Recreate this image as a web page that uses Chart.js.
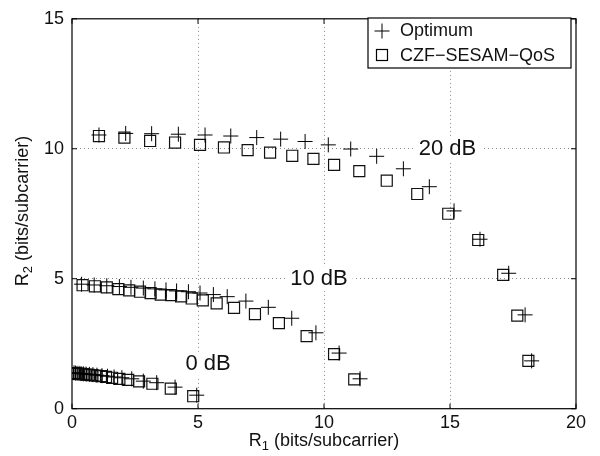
<!DOCTYPE html>
<html>
<head>
<meta charset="utf-8">
<script src="https://cdn.jsdelivr.net/npm/chart.js@4"></script>
<style>
  html, body { margin: 0; padding: 0; background: #fff; }
  #wrap { width: 600px; height: 456px; position: relative; }
</style>
</head>
<body>
<div id="wrap"><canvas id="c"></canvas></div>
<script>
// ── DATA ─────────────────────────────────────────
const xTicks = [0, 5, 10, 15, 20];
const yTicks = [0, 5, 10, 15];

// 20 dB
const opt20X = [1.07, 2.13, 3.16, 4.22, 5.28, 6.30, 7.33, 8.28, 9.25, 10.17, 11.06, 12.09, 13.15, 14.18, 15.16, 16.19, 17.33, 17.98, 18.24];
const opt20Y = [10.53, 10.59, 10.58, 10.56, 10.53, 10.49, 10.43, 10.37, 10.28, 10.15, 9.99, 9.71, 9.23, 8.54, 7.61, 6.52, 5.21, 3.61, 1.84];
const czf20X = [1.07, 2.08, 3.10, 4.09, 5.08, 6.03, 6.97, 7.86, 8.74, 9.58, 10.40, 11.40, 12.49, 13.70, 14.93, 16.12, 17.11, 17.67, 18.11];
const czf20Y = [10.49, 10.43, 10.30, 10.24, 10.15, 10.05, 9.95, 9.85, 9.73, 9.61, 9.38, 9.14, 8.77, 8.26, 7.50, 6.49, 5.15, 3.58, 1.84];

// 10 dB
const opt10X = [0.38, 0.88, 1.38, 1.88, 2.34, 2.83, 3.29, 3.73, 4.15, 4.62, 5.08, 5.61, 6.16, 6.90, 7.79, 8.72, 9.68, 10.60, 11.43];
const opt10Y = [4.79, 4.76, 4.73, 4.70, 4.67, 4.64, 4.61, 4.57, 4.53, 4.50, 4.45, 4.39, 4.31, 4.14, 3.90, 3.48, 2.92, 2.14, 1.15];
const czf10X = [0.42, 0.91, 1.38, 1.84, 2.27, 2.70, 3.12, 3.52, 3.93, 4.33, 4.75, 5.19, 5.74, 6.43, 7.26, 8.21, 9.31, 10.40, 11.20];
const czf10Y = [4.75, 4.71, 4.67, 4.60, 4.55, 4.50, 4.45, 4.39, 4.37, 4.32, 4.24, 4.17, 4.05, 3.88, 3.64, 3.29, 2.79, 2.10, 1.13];

// 0 dB
const opt0X = [0.08, 0.14, 0.20, 0.28, 0.36, 0.45, 0.56, 0.69, 0.83, 0.99, 1.19, 1.41, 1.67, 1.98, 2.37, 2.83, 3.36, 4.09, 4.95];
const opt0Y = [1.38, 1.37, 1.36, 1.36, 1.35, 1.34, 1.33, 1.32, 1.31, 1.29, 1.27, 1.25, 1.22, 1.19, 1.15, 1.06, 1.00, 0.83, 0.52];
const czf0X = [0.08, 0.14, 0.20, 0.28, 0.36, 0.45, 0.56, 0.67, 0.81, 0.97, 1.15, 1.35, 1.59, 1.88, 2.23, 2.66, 3.19, 3.92, 4.81];
const czf0Y = [1.37, 1.36, 1.35, 1.34, 1.34, 1.33, 1.31, 1.30, 1.29, 1.27, 1.25, 1.22, 1.19, 1.15, 1.11, 1.05, 0.96, 0.77, 0.48];

const snrLabels = ['20 dB', '10 dB', '0 dB'];
const snrLabelX = [14.9, 9.8, 5.4];
const snrLabelY = [10.0, 5.0, 1.73];

// ── HELPERS ──────────────────────────────────────
const pts = (xs, ys) => xs.map((x, i) => ({x, y: ys[i]}));
const FONT = '"Liberation Sans", Arial, Helvetica, sans-serif';
const edgeX = [0, 20], edgeY = [0, 15];

const optStyle = {pointStyle: 'cross', pointRadius: 7.5, borderColor: '#000', borderWidth: 1, backgroundColor: 'transparent', showLine: false};
const czfStyle = {pointStyle: 'rect', pointRadius: 7.8, borderColor: '#111', borderWidth: 1.2, backgroundColor: 'transparent', showLine: false};

// ── PLUGIN: frame, ticks, labels, legend ─────────
const deco = {
  id: 'deco',
  beforeDatasetsDraw(chart) {
    const {ctx, scales: {x, y}} = chart;
    ctx.save();
    ctx.font = '22px ' + FONT;
    ctx.textAlign = 'center';
    ctx.textBaseline = 'middle';
    snrLabels.forEach((t, i) => {
      const px = x.getPixelForValue(snrLabelX[i]), py = y.getPixelForValue(snrLabelY[i]);
      const w = ctx.measureText(t).width + 10;
      ctx.fillStyle = '#fff';
      ctx.fillRect(px - w / 2, py - 12, w, 24);
      ctx.fillStyle = '#111';
      ctx.fillText(t, px, py);
    });
    ctx.restore();
  },
  afterDraw(chart) {
    const {ctx, chartArea: a, scales: {x, y}} = chart;
    ctx.save();
    ctx.strokeStyle = '#000';
    ctx.lineWidth = 1.2;
    ctx.strokeRect(a.left, a.top, a.right - a.left, a.bottom - a.top);
    // inward tick marks on all four sides
    ctx.lineWidth = 1;
    ctx.beginPath();
    xTicks.forEach(v => {
      const px = x.getPixelForValue(v);
      ctx.moveTo(px, a.bottom); ctx.lineTo(px, a.bottom - 5);
      ctx.moveTo(px, a.top); ctx.lineTo(px, a.top + 5);
    });
    yTicks.forEach(v => {
      const py = y.getPixelForValue(v);
      ctx.moveTo(a.left, py); ctx.lineTo(a.left + 5, py);
      ctx.moveTo(a.right, py); ctx.lineTo(a.right - 5, py);
    });
    ctx.stroke();

    // axis titles with subscripts
    const title = (sub, cx, cy, rot) => {
      ctx.save();
      ctx.translate(cx, cy);
      ctx.rotate(rot);
      ctx.fillStyle = '#111';
      ctx.textBaseline = 'alphabetic';
      ctx.textAlign = 'left';
      const big = '18px ' + FONT, small = '13px ' + FONT;
      const rest = ' (bits/subcarrier)';
      ctx.font = big; const wR = ctx.measureText('R').width, wRest = ctx.measureText(rest).width;
      ctx.font = small; const wS = ctx.measureText(sub).width;
      let sx = -(wR + wS + wRest) / 2;
      ctx.font = big; ctx.fillText('R', sx, 6); sx += wR;
      ctx.font = small; ctx.fillText(sub, sx, 10); sx += wS;
      ctx.font = big; ctx.fillText(rest, sx, 6);
      ctx.restore();
    };
    title('1', 324, 440, 0);
    title('2', 22, 211, -Math.PI / 2);

    // legend
    const L = {l: 368, t: 18, r: 571, b: 68};
    ctx.fillStyle = '#fff';
    ctx.fillRect(L.l, L.t, L.r - L.l, L.b - L.t);
    ctx.strokeStyle = '#000';
    ctx.lineWidth = 1.2;
    ctx.strokeRect(L.l, L.t, L.r - L.l, L.b - L.t);
    ctx.lineWidth = 1;
    ctx.beginPath();
    ctx.moveTo(382 - 7.5, 31); ctx.lineTo(382 + 7.5, 31);
    ctx.moveTo(382, 31 - 7.5); ctx.lineTo(382, 31 + 7.5);
    ctx.stroke();
    ctx.lineWidth = 1.2;
    ctx.strokeRect(382 - 5.5, 55 - 5.5, 11, 11);
    ctx.fillStyle = '#111';
    ctx.font = '18px ' + FONT;
    ctx.textAlign = 'left';
    ctx.textBaseline = 'middle';
    ctx.fillText('Optimum', 400, 31);
    ctx.fillText('CZF\u2212SESAM\u2212QoS', 400, 56);
    ctx.restore();
  }
};

// ── CHART ────────────────────────────────────────
new Chart(document.getElementById('c'), {
  type: 'scatter',
  data: {
    datasets: [
      {label: 'Optimum', data: pts(opt20X, opt20Y), ...optStyle},
      {label: 'CZF-SESAM-QoS', data: pts(czf20X, czf20Y), ...czfStyle},
      {label: 'Optimum', data: pts(opt10X, opt10Y), ...optStyle},
      {label: 'CZF-SESAM-QoS', data: pts(czf10X, czf10Y), ...czfStyle},
      {label: 'Optimum', data: pts(opt0X, opt0Y), ...optStyle},
      {label: 'CZF-SESAM-QoS', data: pts(czf0X, czf0Y), ...czfStyle},
    ]
  },
  options: {
    responsive: true, maintainAspectRatio: false, animation: false,
    layout: {padding: {left: 0, top: 13, right: 24, bottom: 0}},
    plugins: {legend: {display: false}, tooltip: {enabled: false}},
    scales: {
      x: {
        type: 'linear', min: 0, max: 20,
        afterBuildTicks: s => { s.ticks = xTicks.map(v => ({value: v})); },
        afterFit: s => { s.height = 47.3; },
        ticks: {color: '#111', font: {size: 18, family: FONT}, padding: 4, maxRotation: 0},
        grid: {drawTicks: false, color: c => edgeX.includes(c.tick.value) ? 'transparent' : '#888', lineWidth: 1},
        border: {display: false, dash: [1, 3]}
      },
      y: {
        type: 'linear', min: 0, max: 15,
        afterBuildTicks: s => { s.ticks = yTicks.map(v => ({value: v})); },
        afterFit: s => { s.width = 72; },
        ticks: {color: '#111', font: {size: 18, family: FONT}, padding: 8},
        grid: {drawTicks: false, color: c => edgeY.includes(c.tick.value) ? 'transparent' : '#888', lineWidth: 1},
        border: {display: false, dash: [1, 3]}
      }
    }
  },
  plugins: [deco]
});
</script>
</body>
</html>
